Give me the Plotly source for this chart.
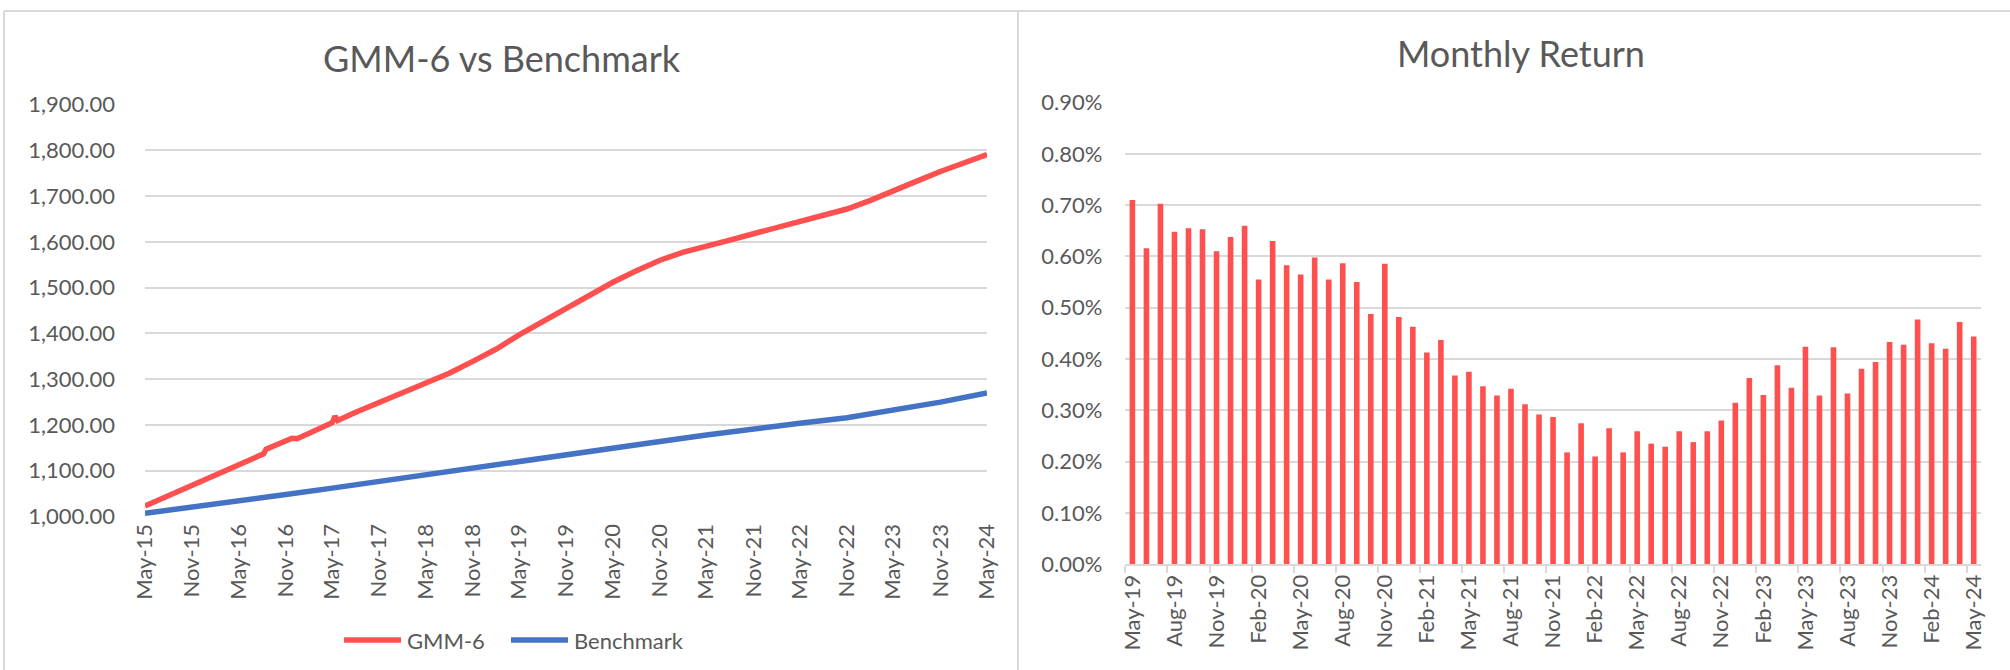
import plotly.graph_objects as go

W, H = 2010, 670

# ---------------- data: left chart (cumulative value) ----------------
gmm_dates = ["2015-05-01", "2015-08-01", "2015-11-01", "2016-02-01", "2016-05-01",
             "2016-08-06", "2016-08-16", "2016-11-01", "2016-11-25", "2016-12-15",
             "2017-01-10", "2017-02-01", "2017-05-01", "2017-05-12", "2017-05-22",
             "2017-08-01", "2017-11-01", "2018-02-01", "2018-05-01", "2018-08-01",
             "2018-11-01", "2019-02-01", "2019-05-01", "2019-08-01", "2019-11-01",
             "2020-02-01", "2020-05-01", "2020-08-01", "2020-11-01", "2021-02-01",
             "2021-05-01", "2021-08-01", "2021-11-01", "2022-02-01", "2022-05-01",
             "2022-08-01", "2022-11-01", "2023-02-01", "2023-05-01", "2023-08-01",
             "2023-11-01", "2024-02-01", "2024-05-01"]
gmm_values = [1023, 1046, 1069, 1092, 1114,
              1137, 1147, 1166, 1171, 1170,
              1177, 1182, 1205, 1219, 1210,
              1228, 1249, 1270, 1290, 1313,
              1339, 1366, 1397, 1426, 1455,
              1483, 1512, 1537, 1560, 1578,
              1590, 1604, 1618, 1632, 1645,
              1657, 1672, 1691, 1713, 1733,
              1754, 1774, 1791]

bench_dates = ["2015-05-01", "2015-11-01", "2016-05-01", "2016-11-01", "2017-05-01",
               "2017-11-01", "2018-05-01", "2018-11-01", "2019-05-01", "2019-11-01",
               "2020-05-01", "2020-11-01", "2021-05-01", "2021-11-01", "2022-05-01",
               "2022-11-01", "2023-05-01", "2023-11-01", "2024-05-01"]
bench_values = [1007, 1020, 1034, 1048, 1062,
                1077, 1092, 1107, 1120, 1135,
                1150, 1164, 1178, 1192, 1204,
                1216, 1232, 1250, 1270]

# ---------------- data: right chart (monthly return, %) ----------------
ret_months = ["May-19", "Jun-19", "Jul-19", "Aug-19", "Sep-19", "Oct-19", "Nov-19", "Dec-19",
              "Jan-20", "Feb-20", "Mar-20", "Apr-20", "May-20", "Jun-20", "Jul-20", "Aug-20",
              "Sep-20", "Oct-20", "Nov-20", "Dec-20", "Jan-21", "Feb-21", "Mar-21", "Apr-21",
              "May-21", "Jun-21", "Jul-21", "Aug-21", "Sep-21", "Oct-21", "Nov-21", "Dec-21",
              "Jan-22", "Feb-22", "Mar-22", "Apr-22", "May-22", "Jun-22", "Jul-22", "Aug-22",
              "Sep-22", "Oct-22", "Nov-22", "Dec-22", "Jan-23", "Feb-23", "Mar-23", "Apr-23",
              "May-23", "Jun-23", "Jul-23", "Aug-23", "Sep-23", "Oct-23", "Nov-23", "Dec-23",
              "Jan-24", "Feb-24", "Mar-24", "Apr-24", "May-24"]
ret_values = [0.710, 0.616, 0.703, 0.648, 0.655, 0.653, 0.610, 0.638,
              0.660, 0.555, 0.630, 0.583, 0.565, 0.598, 0.555, 0.587,
              0.550, 0.488, 0.586, 0.482, 0.463, 0.413, 0.437, 0.368,
              0.375, 0.347, 0.329, 0.342, 0.312, 0.292, 0.287, 0.218,
              0.275, 0.210, 0.265, 0.218, 0.259, 0.235, 0.229, 0.259,
              0.238, 0.259, 0.280, 0.315, 0.363, 0.330, 0.388, 0.344,
              0.424, 0.329, 0.423, 0.333, 0.381, 0.394, 0.433, 0.428,
              0.477, 0.431, 0.420, 0.472, 0.444]
ret_tick_labels = ret_months[::3]

# ---------------- styling ----------------
RED = "#FF5050"
BLUE = "#4472C4"
GRID = "#D9D9D9"
TXT = "#595959"
FONT = "Lato, 'Open Sans', sans-serif"


def px_x(x):
    return x / W


def px_y(y):
    return 1 - y / H


fig = go.Figure()

fig.add_trace(go.Scatter(x=gmm_dates, y=gmm_values, mode="lines", name="GMM-6",
                         line=dict(color=RED, width=5.5), xaxis="x", yaxis="y",
                         showlegend=False))
fig.add_trace(go.Scatter(x=bench_dates, y=bench_values, mode="lines", name="Benchmark",
                         line=dict(color=BLUE, width=5.5), xaxis="x", yaxis="y",
                         showlegend=False))
fig.add_trace(go.Bar(x=ret_months, y=ret_values, marker=dict(color=RED, line=dict(width=0)),
                     xaxis="x2", yaxis="y2", showlegend=False, name="Monthly Return"))

tickfont = dict(family=FONT, size=22, color=TXT)

fig.update_layout(
    width=W, height=H,
    margin=dict(l=0, r=0, t=0, b=0),
    paper_bgcolor="white", plot_bgcolor="white",
    bargap=0.6,
    xaxis=dict(domain=[px_x(145), px_x(987)], type="date",
               range=["2015-05-01", "2024-05-01"],
               tick0="2015-05-01", dtick="M6", tickformat="%b-%y",
               tickangle=-90, tickfont=tickfont, showgrid=False, zeroline=False,
               showline=False, ticks="", ticklabelstandoff=2, automargin=False,
               anchor="y"),
    yaxis=dict(domain=[px_y(516.5), px_y(104.7)], range=[1000, 1900], dtick=100,
               tickformat=",.2f", tickfont=tickfont, showgrid=True, gridcolor=GRID,
               gridwidth=1.5, zeroline=False, showline=False, ticks="",
               ticklabelstandoff=29, automargin=False, anchor="x"),
    xaxis2=dict(domain=[px_x(1125.4), px_x(1980.7)], type="category",
                tickmode="array", tickvals=ret_tick_labels, ticktext=ret_tick_labels,
                tickson="boundaries", ticks="outside", ticklen=7, tickwidth=1.5,
                tickcolor=GRID, tickangle=-90, tickfont=tickfont, showgrid=False,
                showline=True, linecolor=GRID, linewidth=1.5, zeroline=False,
                automargin=False, anchor="y2", range=[-0.5, len(ret_months) - 0.5]),
    yaxis2=dict(domain=[px_y(564.2), px_y(102.6)], range=[0, 0.9], dtick=0.1,
                tickformat=".2f", ticksuffix="%", tickfont=tickfont, showgrid=True,
                gridcolor=GRID, gridwidth=1.5, zeroline=False, showline=False,
                ticks="", ticklabelstandoff=22, automargin=False, anchor="x2"),
)

# titles
fig.add_annotation(text="GMM-6 vs Benchmark", x=px_x(502), y=px_y(58), xref="paper",
                   yref="paper", showarrow=False, xanchor="center", yanchor="middle",
                   font=dict(family=FONT, size=36, color=TXT))
fig.add_annotation(text="Monthly Return", x=px_x(1521), y=px_y(53), xref="paper",
                   yref="paper", showarrow=False, xanchor="center", yanchor="middle",
                   font=dict(family=FONT, size=36, color=TXT))

# legend for left chart
legend_items = [("GMM-6", RED, 344, 401, 405), ("Benchmark", BLUE, 511, 568, 572)]
for label, color, x0, x1, tx in legend_items:
    fig.add_shape(type="line", xref="paper", yref="paper", x0=px_x(x0), x1=px_x(x1),
                  y0=px_y(640), y1=px_y(640), line=dict(color=color, width=5.5))
    fig.add_annotation(text=label, x=px_x(tx), y=px_y(640), xref="paper", yref="paper",
                       showarrow=False, xanchor="left", yanchor="middle",
                       font=dict(family=FONT, size=22, color=TXT))

# panel borders
for (x0, y0, x1, y1) in [(4, 11, 2010, 11), (4, 11, 4, 670), (1018, 11, 1018, 670)]:
    fig.add_shape(type="line", xref="paper", yref="paper", x0=px_x(x0), x1=px_x(x1),
                  y0=px_y(y0), y1=px_y(y1), line=dict(color=GRID, width=2))

fig.write_html("out.html",
               config={"displayModeBar": False},
               post_script="document.body.style.margin='0';document.body.style.overflow='hidden';")
